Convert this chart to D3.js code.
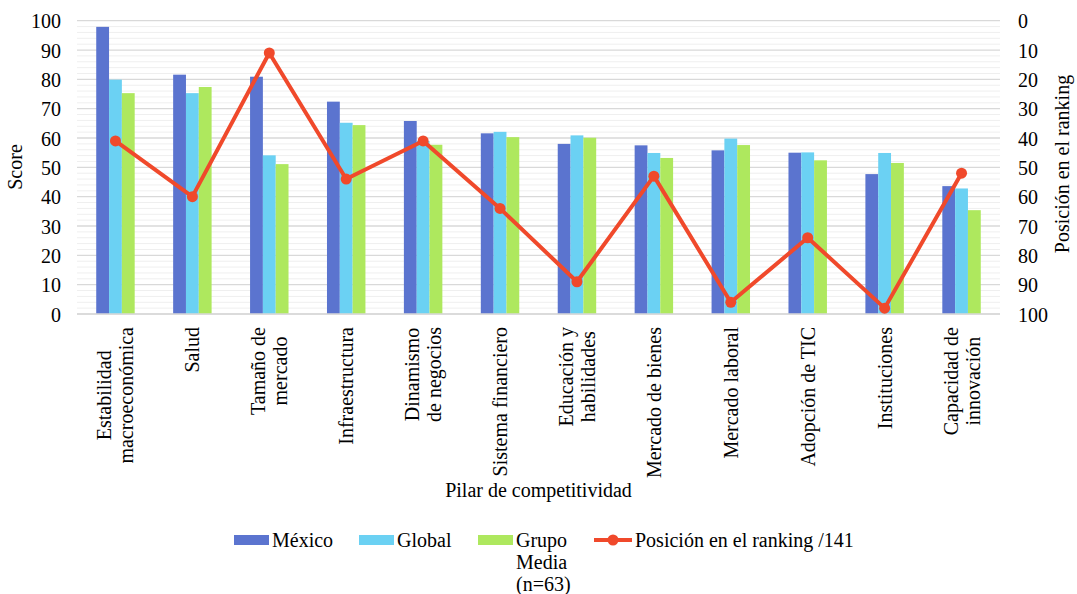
<!DOCTYPE html>
<html>
<head>
<meta charset="utf-8">
<script src="https://cdn.jsdelivr.net/npm/d3@7"></script>
<style>
  body { margin: 0; background: #fff; }
</style>
</head>
<body>
<svg id="chart" width="1077" height="594" style="font-family:'Liberation Serif'"></svg>
<script>
// Pillars of the competitiveness index (label lines separated by "\n")
const categories = [
  "Estabilidad\nmacroeconómica", "Salud", "Tamaño de\nmercado", "Infraestructura",
  "Dinamismo\nde negocios", "Sistema financiero", "Educación y\nhabilidades",
  "Mercado de bienes", "Mercado laboral", "Adopción de TIC", "Instituciones",
  "Capacidad de\ninnovación"
];
const mexico = [97.9, 81.6, 80.9, 72.4, 65.8, 61.6, 58.0, 57.5, 55.8, 55.0, 47.7, 43.6];
const global = [79.9, 75.3, 54.1, 65.2, 59.0, 62.1, 60.9, 54.9, 59.8, 55.1, 54.9, 42.8];
const grupo  = [75.3, 77.4, 51.1, 64.4, 57.7, 60.3, 60.1, 53.2, 57.6, 52.4, 51.5, 35.4];
const ranking = [41, 60, 11, 54, 41, 64, 89, 53, 96, 74, 98, 52];

const scoreTicks = [0, 10, 20, 30, 40, 50, 60, 70, 80, 90, 100];
const rankTicks  = [0, 10, 20, 30, 40, 50, 60, 70, 80, 90, 100];

const seriesNames = ["México", "Global", "Grupo\nMedia\n(n=63)"];
const lineName = "Posición en el ranking /141";
const colors = ["#5b74cf", "#6bd1f3", "#aee85e"];
const lineColor = "#f0492b";

const FONT = "'Liberation Serif'";
const fontSize = 20;
const svg = d3.select("#chart");
const plotLeft = 77, plotRight = 1000, plotTop = 20.7, plotBottom = 314;

function styleText(sel) {
  return sel.attr("font-family", FONT).style("font-family", FONT)
    .style("font-size", fontSize + "px").attr("fill", "#000");
}

const x = d3.scaleBand().domain(d3.range(categories.length)).range([plotLeft, plotRight]).padding(0);
const bw = x.bandwidth();
const x1 = d3.scaleBand().domain([0, 1, 2]).range([bw / 4, bw * 3 / 4]).padding(0);
const y = d3.scaleLinear().domain([0, 100]).range([plotBottom, plotTop]);
const yR = d3.scaleLinear().domain([0, 100]).range([plotTop, plotBottom]);

// minor and major gridlines
const minor = d3.range(0, 101, 2).filter(v => v % 10 !== 0);
svg.append("g").selectAll("line").data(minor).join("line")
  .attr("x1", plotLeft).attr("x2", plotRight)
  .attr("y1", d => y(d)).attr("y2", d => y(d))
  .attr("stroke", "#efefef").attr("stroke-width", 1);
svg.append("g").selectAll("line").data(scoreTicks).join("line")
  .attr("x1", plotLeft).attr("x2", plotRight)
  .attr("y1", d => y(d)).attr("y2", d => y(d))
  .attr("stroke", "#d9d9d9").attr("stroke-width", 1.3);

// left axis
const yAxis = svg.append("g").attr("transform", `translate(${plotLeft},0)`)
  .call(d3.axisLeft(y).tickValues(scoreTicks).tickSize(0).tickPadding(16));
yAxis.attr("font-family", FONT);
yAxis.select(".domain").remove();
styleText(yAxis.selectAll("text")).attr("dy", "0.35em");

// right axis
const rAxis = svg.append("g").attr("transform", `translate(${plotRight},0)`)
  .call(d3.axisRight(yR).tickValues(rankTicks).tickSize(0).tickPadding(18));
rAxis.attr("font-family", FONT);
rAxis.select(".domain").remove();
styleText(rAxis.selectAll("text")).attr("dy", "0.35em");

// bars
const series = [mexico, global, grupo];
series.forEach((vals, s) => {
  svg.append("g").selectAll("rect").data(vals).join("rect")
    .attr("x", (d, i) => x(i) + x1(s))
    .attr("width", x1.bandwidth())
    .attr("y", d => y(d))
    .attr("height", d => y(0) - y(d))
    .attr("fill", colors[s]);
});

// bottom axis line
svg.append("line").attr("x1", plotLeft).attr("x2", plotRight)
  .attr("y1", plotBottom).attr("y2", plotBottom)
  .attr("stroke", "#d9d9d9").attr("stroke-width", 1.5);

// ranking line
const cx = i => x(i) + bw / 2;
svg.append("path").datum(ranking)
  .attr("d", d3.line().x((d, i) => cx(i)).y(d => yR(d)))
  .attr("fill", "none").attr("stroke", lineColor).attr("stroke-width", 4)
  .attr("stroke-linejoin", "round");
svg.append("g").selectAll("circle").data(ranking).join("circle")
  .attr("cx", (d, i) => cx(i)).attr("cy", d => yR(d)).attr("r", 5.5)
  .attr("fill", lineColor);

// category labels, rotated, lines centred within the block
const lineH = 22;
categories.forEach((c, i) => {
  const lines = c.split("\n");
  const g = svg.append("g")
    .attr("transform", `translate(${cx(i)},${plotBottom + 13}) rotate(-90)`);
  const texts = lines.map((t, k) => styleText(g.append("text"))
    .attr("y", (k - (lines.length - 1) / 2) * lineH)
    .attr("dy", "0.35em")
    .attr("text-anchor", "middle")
    .text(t));
  const maxLen = d3.max(texts, t => t.node().getComputedTextLength());
  texts.forEach(t => t.attr("x", -maxLen / 2));
});

// axis titles
styleText(svg.append("text")).attr("text-anchor", "middle")
  .attr("transform", `translate(22,167) rotate(-90)`)
  .text("Score");
styleText(svg.append("text")).attr("text-anchor", "middle")
  .attr("transform", `translate(1069,164) rotate(-90)`)
  .text("Posición en el ranking");
styleText(svg.append("text")).attr("text-anchor", "middle")
  .attr("x", (plotLeft + plotRight) / 2).attr("y", 497)
  .text("Pilar de competitividad");

// legend
const legY = 540;
const legX = [234, 359, 478];
seriesNames.forEach((n, s) => {
  svg.append("rect").attr("x", legX[s]).attr("y", legY - 5)
    .attr("width", 35).attr("height", 10).attr("fill", colors[s]);
  n.split("\n").forEach((t, k) => {
    styleText(svg.append("text")).attr("x", legX[s] + 38).attr("y", legY + k * 22)
      .attr("dy", "0.35em").text(t);
  });
});
svg.append("line").attr("x1", 594).attr("x2", 632)
  .attr("y1", legY).attr("y2", legY)
  .attr("stroke", lineColor).attr("stroke-width", 4);
svg.append("circle").attr("cx", 613).attr("cy", legY).attr("r", 5.5).attr("fill", lineColor);
styleText(svg.append("text")).attr("x", 635).attr("y", legY).attr("dy", "0.35em")
  .text(lineName);
</script>
</body>
</html>
